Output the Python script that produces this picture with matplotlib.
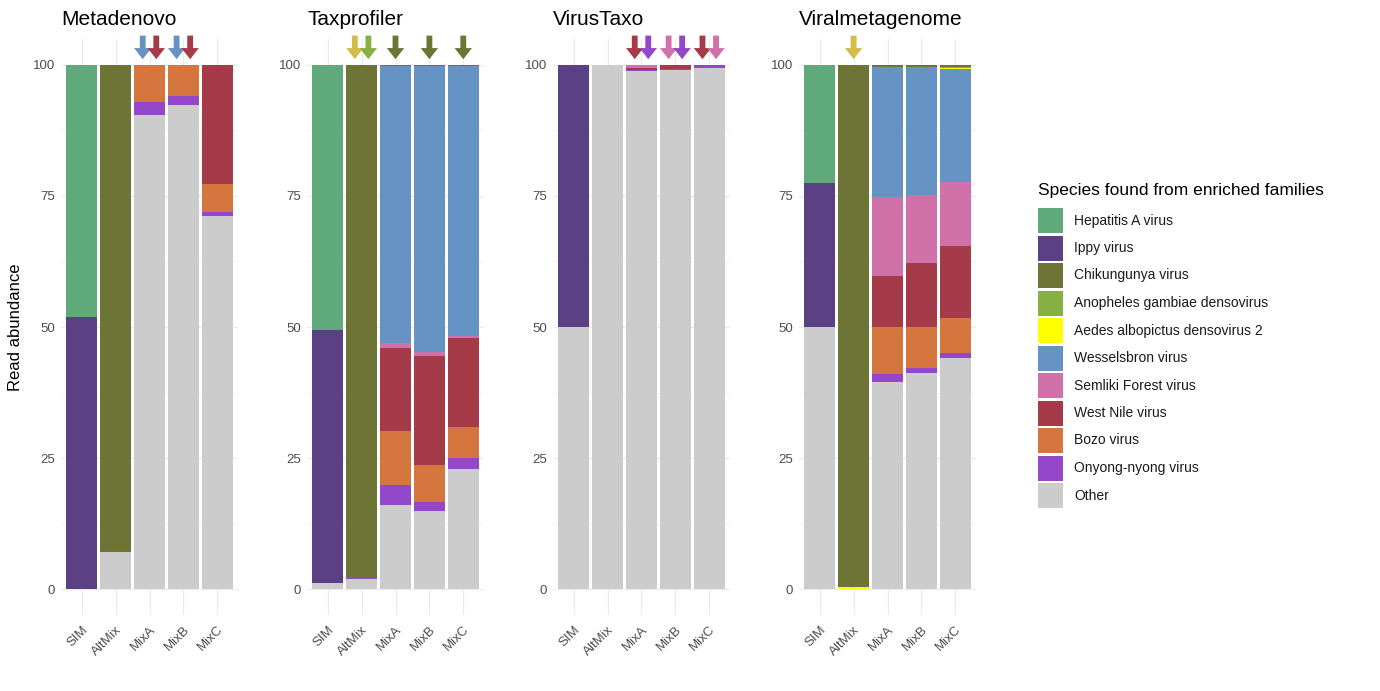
import numpy as np
import matplotlib
matplotlib.use("Agg")
import matplotlib.pyplot as plt
from matplotlib.patches import Rectangle

plt.rcParams['font.family'] = ['Liberation Sans', 'DejaVu Sans']

# --- Data ---
samples = ["SIM", "AltMix", "MixA", "MixB", "MixC"]
species = ["Hepatitis A virus", "Ippy virus", "Chikungunya virus",
           "Anopheles gambiae densovirus", "Aedes albopictus densovirus 2",
           "Wesselsbron virus", "Semliki Forest virus", "West Nile virus",
           "Bozo virus", "Onyong-nyong virus", "Other"]
colours = ["#5fa97b", "#5c4084", "#6e7435", "#86b142", "#ffff00",
           "#6593c4", "#d171a9", "#a53a49", "#d6763f", "#9447c9", "#cccccc"]
arrow_colours = {"Aedes albopictus densovirus 2": "#d2bd4a"}

# rows follow `species`, columns follow `samples` (read abundance, %)
metadenovo = [
    [48.0, 0, 0, 0, 0],
    [52.0, 0, 0, 0, 0],
    [0, 92.8, 0, 0, 0],
    [0, 0, 0, 0, 0],
    [0, 0, 0, 0, 0],
    [0, 0, 0, 0, 0],
    [0, 0, 0, 0, 0],
    [0, 0, 0, 0, 22.7],
    [0, 0, 7.0, 6.0, 5.3],
    [0, 0.2, 2.5, 1.6, 0.8],
    [0, 7.0, 90.5, 92.4, 71.2],
]
taxprofiler = [
    [50.5, 0, 0, 0, 0],
    [48.4, 0, 0, 0, 0],
    [0, 97.7, 0.2, 0.2, 0.2],
    [0, 0, 0, 0, 0],
    [0, 0, 0, 0, 0],
    [0, 0, 52.9, 54.5, 51.5],
    [0, 0, 0.9, 0.9, 0.4],
    [0, 0, 15.8, 20.8, 16.9],
    [0, 0, 10.3, 7.0, 6.0],
    [0, 0.3, 3.9, 1.8, 2.1],
    [1.1, 2.0, 16.0, 14.8, 22.9],
]
virustaxo = [
    [0, 0, 0, 0, 0],
    [50.0, 0, 0, 0, 0],
    [0, 0, 0, 0, 0],
    [0, 0, 0, 0, 0],
    [0, 0, 0, 0, 0],
    [0, 0, 0, 0, 0],
    [0, 0, 0.65, 0.1, 0.1],
    [0, 0, 0.3, 0.7, 0],
    [0, 0, 0, 0, 0],
    [0, 0, 0.25, 0.1, 0.5],
    [50.0, 100.0, 98.8, 99.1, 99.4],
]
viralmetagenome = [
    [22.5, 0, 0, 0, 0],
    [27.5, 0, 0, 0, 0],
    [0, 99.7, 0.3, 0.3, 0.3],
    [0, 0, 0, 0, 0.15],
    [0, 0.3, 0, 0, 0.25],
    [0, 0, 24.8, 24.5, 21.6],
    [0, 0, 15.1, 13.0, 12.1],
    [0, 0, 9.8, 12.2, 13.8],
    [0, 0, 8.9, 7.8, 6.6],
    [0, 0, 1.5, 1.0, 1.0],
    [50.0, 0, 39.6, 41.2, 44.1],
]

# expected species marked with arrows: (sample, [species])
metadenovo_arrows = [("MixA", ["Wesselsbron virus", "West Nile virus"]),
                     ("MixB", ["Wesselsbron virus", "West Nile virus"])]
taxprofiler_arrows = [("AltMix", ["Aedes albopictus densovirus 2", "Anopheles gambiae densovirus"]),
                      ("MixA", ["Chikungunya virus"]),
                      ("MixB", ["Chikungunya virus"]),
                      ("MixC", ["Chikungunya virus"])]
virustaxo_arrows = [("MixA", ["West Nile virus", "Onyong-nyong virus"]),
                    ("MixB", ["Semliki Forest virus", "Onyong-nyong virus"]),
                    ("MixC", ["West Nile virus", "Semliki Forest virus"])]
viralmetagenome_arrows = [("AltMix", ["Aedes albopictus densovirus 2"])]

tools = [("Metadenovo", metadenovo, metadenovo_arrows),
         ("Taxprofiler", taxprofiler, taxprofiler_arrows),
         ("VirusTaxo", virustaxo, virustaxo_arrows),
         ("Viralmetagenome", viralmetagenome, viralmetagenome_arrows)]

# --- Figure ---
W, H = 1380, 691
fig = plt.figure(figsize=(W / 100, H / 100), dpi=100)

grid_col = "#ebebeb"
tick_col = "#4d4d4d"
x = np.arange(len(samples))

for i, (name, values, arrows) in enumerate(tools):
    left = 61.4 + i * 246.0
    ax = fig.add_axes([left / W, (H - 615.25) / H, 176.2 / W, 576.5 / H])
    ax.set_xlim(-0.6, 4.6)
    ax.set_ylim(-5, 105)

    # stack bottom-up: Other first, Hepatitis A on top
    bottom = np.zeros(len(samples))
    for sp, col, row in reversed(list(zip(species, colours, values))):
        row = np.array(row, dtype=float)
        ax.bar(x, row, bottom=bottom, width=0.9, color=col, linewidth=0)
        bottom += row

    for s, sp_list in arrows:
        xi = samples.index(s)
        offs = [0.0] if len(sp_list) == 1 else [-0.2, 0.2]
        for off, sp in zip(offs, sp_list):
            c = arrow_colours.get(sp, colours[species.index(sp)])
            ax.annotate("", xy=(xi + off, 101.1), xytext=(xi + off, 105.6),
                        arrowprops=dict(arrowstyle="simple,head_width=1.25,head_length=0.8,tail_width=0.42",
                                        fc=c, ec="none", shrinkA=0, shrinkB=0,
                                        mutation_scale=10),
                        annotation_clip=False)

    ax.set_xticks(x)
    ax.set_xticklabels(samples, rotation=45, ha="right", va="top",
                       rotation_mode="anchor")
    ax.set_yticks([0, 25, 50, 75, 100])
    ax.set_yticks([12.5, 37.5, 62.5, 87.5], minor=True)
    ax.grid(True, which="major", color=grid_col, linewidth=0.9)
    ax.grid(True, which="minor", axis="y", color=grid_col, linewidth=0.45)
    ax.set_axisbelow(True)
    ax.tick_params(which="both", length=0, colors=tick_col, labelsize=9.5)
    ax.tick_params(axis="y", pad=4.5)
    ax.tick_params(axis="x", pad=6)
    for sp in ax.spines.values():
        sp.set_visible(False)
    ax.set_title(name, loc="left", fontsize=15, pad=10)

fig.text(16 / W, 1 - 327 / H, "Read abundance", rotation=90,
         ha="center", va="center", fontsize=12)

# --- Legend (drawn in pixel positions) ---
fig.text(1038 / W, 1 - 190 / H, "Species found from enriched families",
         ha="left", va="center", fontsize=12.5)
for k, (sp, col) in enumerate(zip(species, colours)):
    top = 208 + 27.5 * k
    fig.add_artist(Rectangle((1038 / W, 1 - (top + 25) / H), 25 / W, 25 / H,
                             transform=fig.transFigure, facecolor=col,
                             edgecolor="none"))
    fig.text(1074 / W, 1 - (top + 12.5) / H, sp, ha="left", va="center",
             fontsize=10, color="#1a1a1a")

fig.savefig("out.png", dpi=100)
